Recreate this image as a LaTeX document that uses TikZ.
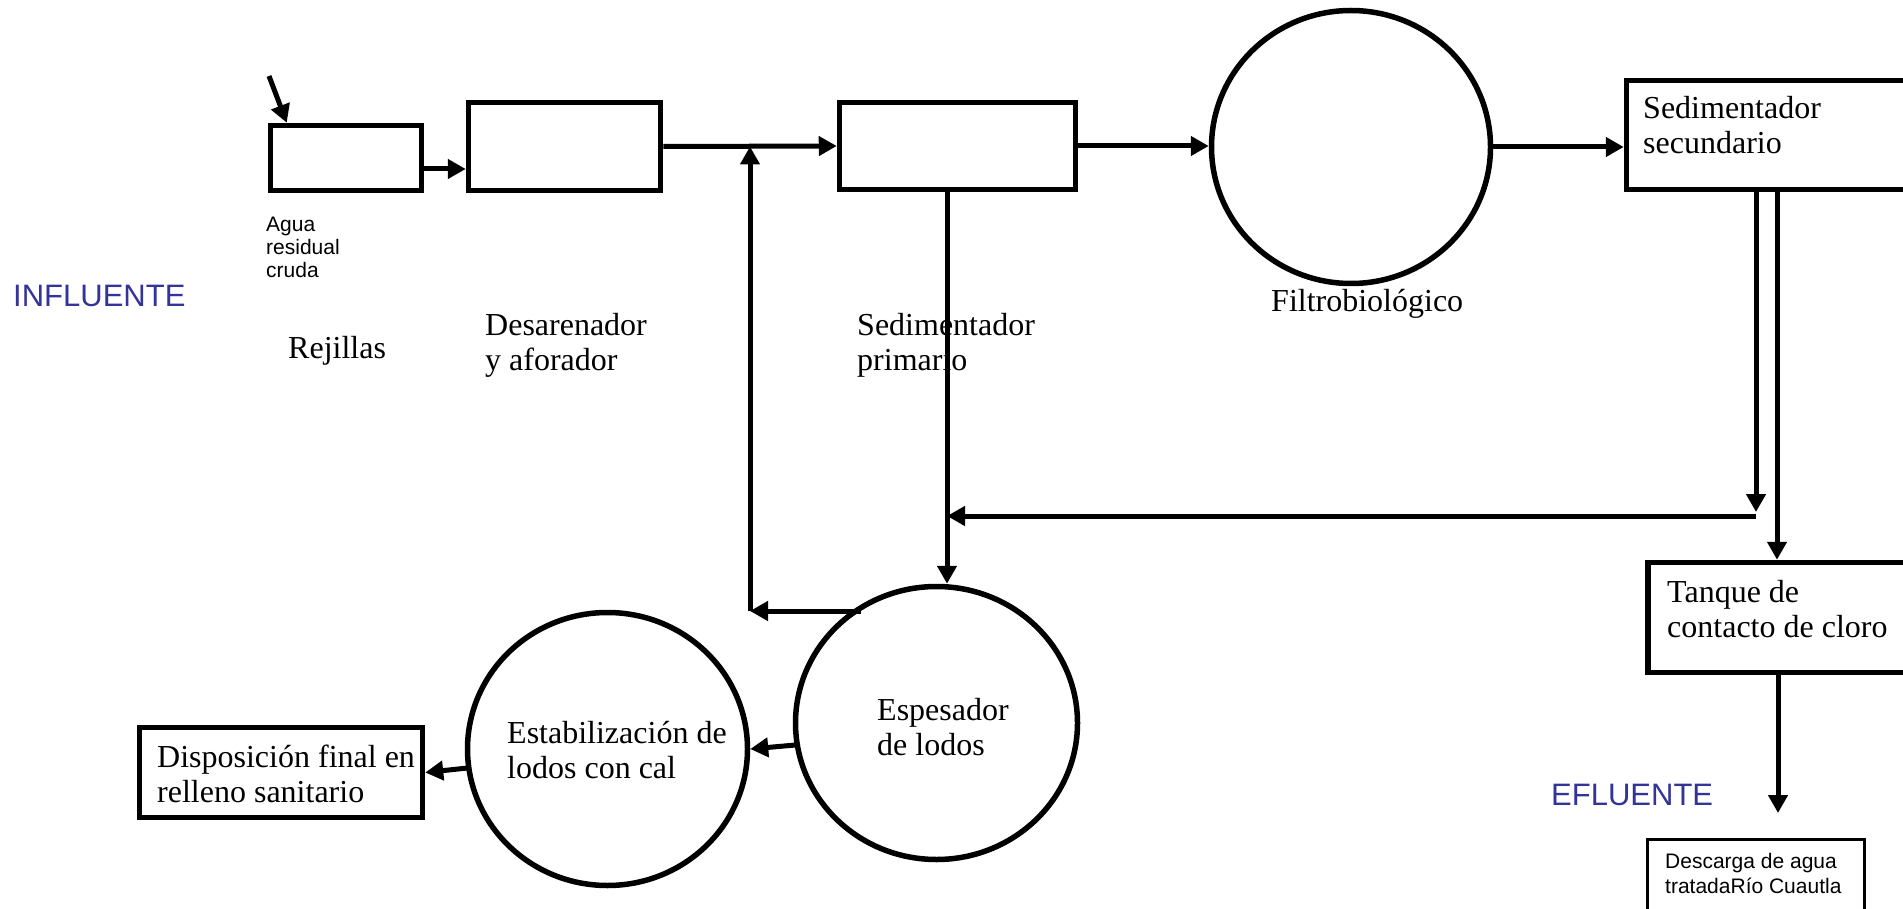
\documentclass[tikz,border=0pt]{standalone}
\usepackage{fontspec}
\setmainfont{Liberation Serif}
\newfontfamily\arial{Liberation Sans}
\usetikzlibrary{arrows.meta,shapes.geometric}
\definecolor{lblue}{HTML}{333399}
\begin{document}
\begin{tikzpicture}[x=1pt,y=-1pt,
  boxs/.style={draw,line width=5.5pt,rectangle,inner sep=0pt},
  ell/.style={draw,line width=5.5pt,ellipse,inner sep=0pt},
  arr/.style={line width=5pt,-{Triangle[length=18pt,width=19pt]}},
  lab/.style={inner sep=0pt,anchor=north west,align=left,font=\fontsize{32}{35}\selectfont},
  lab1/.style={inner sep=0pt,anchor=base west,font=\fontsize{32}{35}\selectfont},
  sml/.style={inner sep=0pt,anchor=north west,align=left,font=\arial\fontsize{21}{23}\selectfont},
  blu/.style={inner sep=0pt,anchor=base west,text=lblue,font=\arial\fontsize{31}{35}\selectfont}]
\useasboundingbox (0,0) rectangle (1903,909);
\clip (0,0) rectangle (1903,909);

% boxes
\node[boxs,minimum width=151pt,minimum height=65pt] (rej) at (346,158) {};
\node[boxs,minimum width=192pt,minimum height=88pt] (des) at (564.5,146.5) {};
\node[boxs,minimum width=236pt,minimum height=87pt] (sedp) at (957.5,146) {};
\node[boxs,minimum width=333pt,minimum height=109pt] (sed2) at (1793,135) {};
\node[boxs,minimum width=312pt,minimum height=110pt] (tan) at (1804,617.5) {};
\node[draw,line width=3pt,rectangle,inner sep=0pt,minimum width=217pt,minimum height=101pt] (desc) at (1755.5,889.5) {};
\node[boxs,minimum width=283pt,minimum height=90pt] (disp) at (281,772.5) {};

% circles
\node[ell,minimum width=279pt,minimum height=273pt] (fil) at (1351,147) {};
\node[ell,minimum width=280pt,minimum height=273pt] (est) at (607.5,749) {};
\node[ell,minimum width=282pt,minimum height=273pt] (esp) at (936.5,723) {};

% labels
\node[sml] (lagua) at (266,217) {Agua\\residual\\cruda};
\node[blu] (linf) at (13,306) {INFLUENTE};
\node[lab1] (lrej) at (288,358) {Rejillas};
\node[lab] (ldes) at (485,313) {Desarenador\\y aforador};
\node[lab] (lsedp) at (857,313) {Sedimentador\\primario};
\node[lab1] (lfil) at (1271,312) {Filtrobiológico};
\node[lab] (lsed2) at (1643,96) {Sedimentador\\secundario};
\node[lab] (ltan) at (1667,580) {Tanque de\\contacto de cloro};
\node[blu] (lefl) at (1551,805) {EFLUENTE};
\node[sml,font=\arial\fontsize{21}{25}\selectfont] (ldesc) at (1665,853) {Descarga de agua\\tratadaRío Cuautla};
\node[lab] (ldisp) at (157,745) {Disposición final en\\relleno sanitario};
\node[lab] (lest) at (507,721) {Estabilización de\\lodos con cal};
\node[lab] (lesp) at (877,698) {Espesador\\de lodos};

% coordinates
\coordinate (inA) at (269,76);
\coordinate (pv) at (947,516);
\coordinate (r1) at (1756,516);
\coordinate (k) at (750,611);
\coordinate (eff) at (1778,813);

% connectors
\draw[arr] (inA) -- ([xshift=19pt]rej.north west);
\draw[arr] ([yshift=-11pt]rej.east) -- ([yshift=-11pt]rej.east -| des.west);
\draw[arr] (des.east) -- (sedp.west);
\draw[arr] (sedp.east) -- (sedp.east -| fil.west);
\draw[arr] (fil.east) -- (fil.east -| sed2.west);
\draw[arr] (sed2.south -| r1) -- ([yshift=4pt]r1);
\draw[arr] (r1) -- (pv);
\draw[arr] (sedp.south -| pv) -- (pv |- esp.north);
\draw[arr] ([xshift=-16pt]sed2.south) -- ([xshift=-16pt]sed2.south |- tan.north);
\draw[arr] (tan.south -| eff) -- (eff);
\draw[arr] ([xshift=-76pt,yshift=112pt]esp.center) -- (k);
\draw[arr] (k) -- (k |- des.east);
\draw[arr] ([xshift=-141pt,yshift=-22pt]esp.center) -- (est.east);
\draw[arr] ([xshift=-140pt,yshift=-19pt]est.center) -- (disp.east);
\end{tikzpicture}
\end{document}
